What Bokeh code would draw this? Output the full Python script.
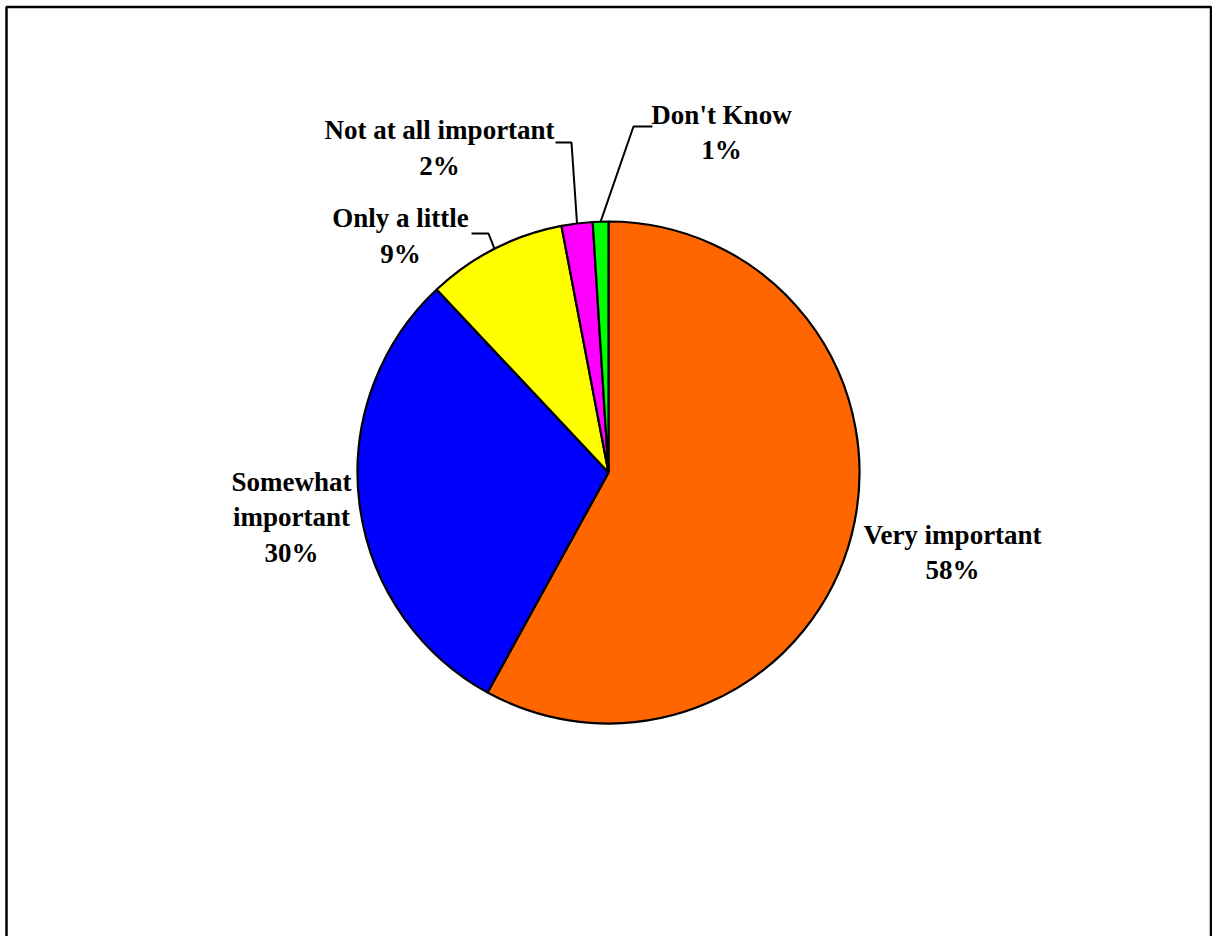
import numpy as np
from bokeh.plotting import figure
from bokeh.models import Range1d, ColumnDataSource
from bokeh.core.properties import value
from bokeh.embed import file_html
from bokeh.resources import INLINE

# ---- data ----
categories = ["Very important", "Somewhat important", "Only a little",
              "Not at all important", "Don't Know"]
shares = [58, 30, 9, 2, 1]
label_texts = ["Very important\n58%", "Somewhat\nimportant\n30%",
               "Only a little\n9%", "Not at all important\n2%", "Don't Know\n1%"]
colors = ["#FF6600", "#0000FF", "#FFFF00", "#FF00FF", "#00FF00"]

# ---- layout (pixel-like coordinates, y up) ----
W, H = 1212, 936
def P(X, Y):
    return X, H - Y

cx, cy = P(608, 472)
R = 251

p = figure(width=W, height=H, x_range=Range1d(0, W), y_range=Range1d(0, H),
           output_backend="svg", toolbar_location=None, min_border=0,
           outline_line_color=None)
p.axis.visible = False
p.xgrid.visible = False
p.ygrid.visible = False
p.background_fill_color = "white"
p.border_fill_color = "white"

# border (left, top, right)
bx = [6, 6, 1210.5, 1210.5]
by = [0, H - 6.5, H - 6.5, 0]
p.line(bx, by, line_color="black", line_width=2.5)

vals = np.array(shares, dtype=float)
frac = vals / vals.sum()
cum_end = np.cumsum(frac)
cum_start = cum_end - frac
start = np.pi / 2 - cum_start * 2 * np.pi
end = np.pi / 2 - cum_end * 2 * np.pi

src = ColumnDataSource(dict(start=start, end=end, color=colors, cat=categories))
p.wedge(x=cx, y=cy, radius=R, start_angle="start", end_angle="end",
        direction="clock", fill_color="color", line_color="black",
        line_width=2.2, source=src)

# labels
label_pos = [P(952, 552), P(291, 517), P(400, 235.5), P(439, 147.5), P(721, 132)]
lsrc = ColumnDataSource(dict(x=[q[0] for q in label_pos], y=[q[1] for q in label_pos],
                             t=label_texts))
p.text(x="x", y="y", text="t", source=lsrc, text_font=value("Liberation Serif"),
       text_font_style="bold", text_font_size="27px", text_align="center",
       text_baseline="middle", text_line_height=1.17, text_color="black")

# leader lines for small slices (index -> elbow, end)
leaders = {2: (P(488, 233), P(471, 233)),
           3: (P(571, 142), P(555, 142)),
           4: (P(633, 126), P(652, 126))}
mid = np.pi / 2 - (cum_start + frac / 2) * 2 * np.pi
for i, (elbow, tip) in leaders.items():
    sx = cx + R * np.cos(mid[i])
    sy = cy + R * np.sin(mid[i])
    p.line([sx, elbow[0], tip[0]], [sy, elbow[1], tip[1]], line_color="black",
           line_width=2)

open("out.html", "w").write(file_html(p, INLINE))
